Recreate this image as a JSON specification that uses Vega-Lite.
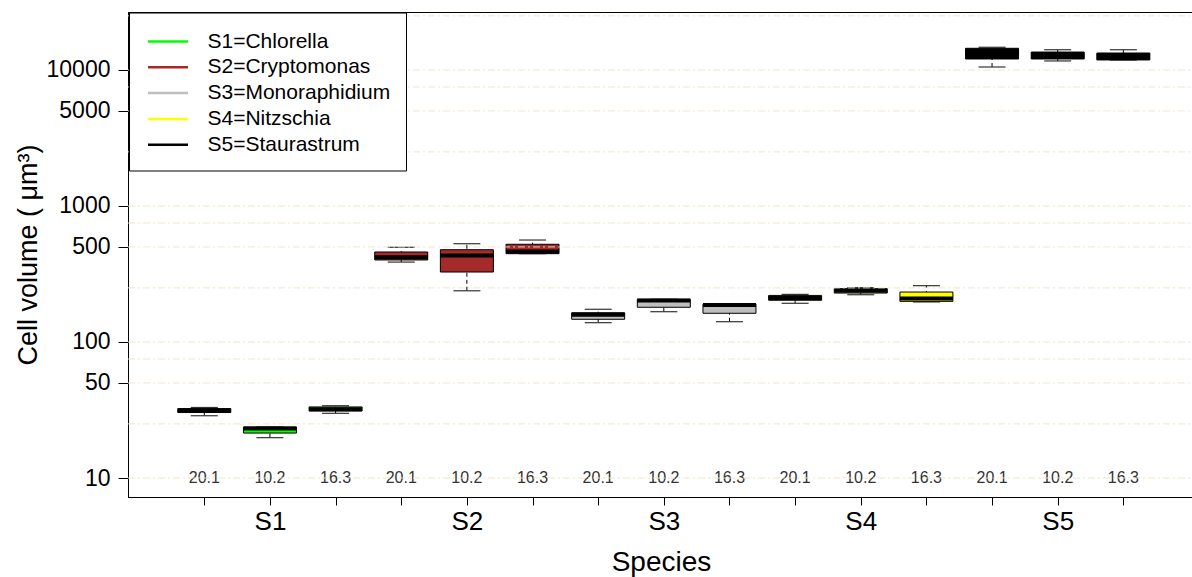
{
  "$schema": "https://vega.github.io/schema/vega-lite/v6.json",
  "width": 1066,
  "height": 485,
  "autosize": {"type": "none"},
  "padding": {"left": 128, "top": 12, "right": 0, "bottom": 80},
  "background": "white",
  "config": {
    "view": {"stroke": "black", "strokeWidth": 1},
    "font": "Liberation Sans",
    "axis": {"domainColor": "black", "tickColor": "black", "labelColor": "black", "titleColor": "black", "titleFontWeight": "normal", "grid": false}
  },
  "datasets": {
    "boxes": [
      {"pos": 1, "code": "S1", "species": "S1=Chlorella", "temp": "20.1", "min": 28.7, "q1": 30.3, "median": 31.36, "q3": 32.4, "max": 33.0},
      {"pos": 2, "code": "S1", "species": "S1=Chlorella", "temp": "10.2", "min": 19.8, "q1": 21.4, "median": 23.1, "q3": 23.7, "max": 23.7},
      {"pos": 3, "code": "S1", "species": "S1=Chlorella", "temp": "16.3", "min": 29.9, "q1": 31.1, "median": 32.06, "q3": 33.3, "max": 34.0},
      {"pos": 4, "code": "S2", "species": "S2=Cryptomonas", "temp": "20.1", "min": 387, "q1": 401, "median": 420, "q3": 459, "max": 497},
      {"pos": 5, "code": "S2", "species": "S2=Cryptomonas", "temp": "10.2", "min": 238, "q1": 327, "median": 433, "q3": 477, "max": 528},
      {"pos": 6, "code": "S2", "species": "S2=Cryptomonas", "temp": "16.3", "min": 446, "q1": 446, "median": 463, "q3": 523, "max": 562},
      {"pos": 7, "code": "S3", "species": "S3=Monoraphidium", "temp": "20.1", "min": 138.7, "q1": 146.9, "median": 158.8, "q3": 164.2, "max": 174},
      {"pos": 8, "code": "S3", "species": "S3=Monoraphidium", "temp": "10.2", "min": 167, "q1": 180, "median": 202, "q3": 206, "max": 206},
      {"pos": 9, "code": "S3", "species": "S3=Monoraphidium", "temp": "16.3", "min": 141, "q1": 162.6, "median": 187, "q3": 190, "max": 190},
      {"pos": 10, "code": "S4", "species": "S4=Nitzschia", "temp": "20.1", "min": 192.6, "q1": 202.6, "median": 211, "q3": 220, "max": 224},
      {"pos": 11, "code": "S4", "species": "S4=Nitzschia", "temp": "10.2", "min": 222.6, "q1": 229, "median": 237.9, "q3": 246.6, "max": 251},
      {"pos": 12, "code": "S4", "species": "S4=Nitzschia", "temp": "16.3", "min": 197, "q1": 199, "median": 209, "q3": 233, "max": 259.5},
      {"pos": 13, "code": "S5", "species": "S5=Staurastrum", "temp": "20.1", "min": 10520, "q1": 12050, "median": 13330, "q3": 14440, "max": 14690},
      {"pos": 14, "code": "S5", "species": "S5=Staurastrum", "temp": "10.2", "min": 11650, "q1": 12050, "median": 12790, "q3": 13550, "max": 14090},
      {"pos": 15, "code": "S5", "species": "S5=Staurastrum", "temp": "16.3", "min": 11850, "q1": 11850, "median": 12680, "q3": 13330, "max": 14090}
    ],
    "grid": [
      {"v": 10}, {"v": 25}, {"v": 50}, {"v": 75}, {"v": 100}, {"v": 250}, {"v": 500}, {"v": 750},
      {"v": 1000}, {"v": 2500}, {"v": 5000}, {"v": 7500}, {"v": 10000}, {"v": 25000}
    ]
  },
  "encoding": {
    "x": {
      "field": "pos",
      "type": "quantitative",
      "scale": {"domain": [-0.086, 16], "nice": false, "zero": false},
      "axis": {
        "values": [1, 2, 3, 4, 5, 6, 7, 8, 9, 10, 11, 12, 13, 14, 15],
        "labelExpr": "indexof([2,5,8,11,14], datum.value) >= 0 ? 'S' + ((datum.value + 1) / 3) : ''",
        "tickSize": 8,
        "labelFontSize": 26,
        "labelPadding": 3,
        "labelFlush": false,
        "labelOverlap": false,
        "titleFontSize": 28,
        "titlePadding": 14
      },
      "title": "Species"
    }
  },
  "layer": [
    {
      "data": {"name": "boxes"},
      "mark": {"type": "rule", "color": "black", "strokeDash": [4, 3], "strokeWidth": 1},
      "encoding": {
        "y": {
          "field": "min", "type": "quantitative",
          "scale": {"type": "log", "domain": [7.25, 26690], "nice": false},
          "axis": {"values": [10, 50, 100, 500, 1000, 5000, 10000], "format": "d", "tickSize": 10, "labelPadding": 8, "labelFontSize": 23, "titleFontSize": 27, "titlePadding": 4},
          "title": "Cell volume ( μm³)"
        },
        "y2": {"field": "max"}
      }
    },
    {
      "data": {"name": "boxes"},
      "mark": {"type": "tick", "orient": "horizontal", "size": 27, "thickness": 1.2, "color": "#333333", "opacity": 1},
      "encoding": {
        "y": {
          "field": "min", "type": "quantitative",
          "scale": {"type": "log", "domain": [7.25, 26690], "nice": false},
          "axis": {"values": [10, 50, 100, 500, 1000, 5000, 10000], "format": "d", "tickSize": 10, "labelPadding": 8, "labelFontSize": 23, "titleFontSize": 27, "titlePadding": 4},
          "title": "Cell volume ( μm³)"
        }
      }
    },
    {
      "data": {"name": "boxes"},
      "mark": {"type": "tick", "orient": "horizontal", "size": 27, "thickness": 1.2, "color": "#333333", "opacity": 1},
      "encoding": {
        "y": {
          "field": "max", "type": "quantitative",
          "scale": {"type": "log", "domain": [7.25, 26690], "nice": false},
          "axis": {"values": [10, 50, 100, 500, 1000, 5000, 10000], "format": "d", "tickSize": 10, "labelPadding": 8, "labelFontSize": 23, "titleFontSize": 27, "titlePadding": 4},
          "title": "Cell volume ( μm³)"
        }
      }
    },
    {
      "data": {"name": "boxes"},
      "mark": {"type": "bar", "size": 53, "stroke": "black", "strokeWidth": 1},
      "encoding": {
        "y": {
          "field": "q1", "type": "quantitative",
          "scale": {"type": "log", "domain": [7.25, 26690], "nice": false},
          "axis": {"values": [10, 50, 100, 500, 1000, 5000, 10000], "format": "d", "tickSize": 10, "labelPadding": 8, "labelFontSize": 23, "titleFontSize": 27, "titlePadding": 4},
          "title": "Cell volume ( μm³)"
        },
        "y2": {"field": "q3"},
        "fill": {
          "field": "code", "type": "nominal",
          "scale": {
            "domain": ["S1", "S2", "S3", "S4", "S5"],
            "range": ["#00FF00", "#A52A2A", "#BEBEBE", "#FFFF00", "#000000"]
          },
          "legend": null
        }
      }
    },
    {
      "data": {"name": "boxes"},
      "mark": {"type": "tick", "orient": "horizontal", "size": 53, "thickness": 4, "color": "black", "opacity": 1},
      "encoding": {
        "y": {
          "field": "median", "type": "quantitative",
          "scale": {"type": "log", "domain": [7.25, 26690], "nice": false},
          "axis": {"values": [10, 50, 100, 500, 1000, 5000, 10000], "format": "d", "tickSize": 10, "labelPadding": 8, "labelFontSize": 23, "titleFontSize": 27, "titlePadding": 4},
          "title": "Cell volume ( μm³)"
        }
      }
    },
    {
      "data": {"name": "boxes"},
      "mark": {"type": "rule"},
      "encoding": {
        "y": {
          "field": "median", "type": "quantitative",
          "scale": {"type": "log", "domain": [7.25, 26690], "nice": false},
          "axis": {"values": [10, 50, 100, 500, 1000, 5000, 10000], "format": "d", "tickSize": 10, "labelPadding": 8, "labelFontSize": 23, "titleFontSize": 27, "titlePadding": 4},
          "title": "Cell volume ( μm³)"
        },
        "y2": {"field": "median"},
        "stroke": {
          "field": "species", "type": "nominal",
          "scale": {
            "domain": ["S1=Chlorella", "S2=Cryptomonas", "S3=Monoraphidium", "S4=Nitzschia", "S5=Staurastrum"],
            "range": ["#00FF00", "#A52A2A", "#BEBEBE", "#FFFF00", "#000000"]
          },
          "legend": {
            "title": null,
            "orient": "none",
            "legendX": 1,
            "legendY": 0.5,
            "symbolType": "M-0.833,0H2.5",
            "symbolSize": 576,
            "symbolStrokeWidth": 2.5,
            "labelFontSize": 21,
            "labelOffset": 36,
            "labelLimit": 400,
            "labelColor": "black",
            "rowPadding": 1.8,
            "padding": 15.5,
            "fillColor": "white",
            "strokeColor": "black"
          }
        }
      }
    },
    {
      "data": {"name": "boxes"},
      "mark": {"type": "text", "fontSize": 16, "color": "#333333", "baseline": "middle", "align": "center"},
      "encoding": {
        "y": {
          "datum": 10, "type": "quantitative",
          "scale": {"type": "log", "domain": [7.25, 26690], "nice": false},
          "axis": {"values": [10, 50, 100, 500, 1000, 5000, 10000], "format": "d", "tickSize": 10, "labelPadding": 8, "labelFontSize": 23, "titleFontSize": 27, "titlePadding": 4},
          "title": "Cell volume ( μm³)"
        },
        "text": {"field": "temp", "type": "nominal"}
      }
    },
    {
      "data": {"name": "grid"},
      "mark": {"type": "rule", "color": "#EDE3C3", "strokeDash": [7, 3, 2, 3], "strokeWidth": 1, "opacity": 0.9},
      "encoding": {
        "x": {"value": 0},
        "x2": {"value": 1066},
        "y": {
          "field": "v", "type": "quantitative",
          "scale": {"type": "log", "domain": [7.25, 26690], "nice": false},
          "axis": {"values": [10, 50, 100, 500, 1000, 5000, 10000], "format": "d", "tickSize": 10, "labelPadding": 8, "labelFontSize": 23, "titleFontSize": 27, "titlePadding": 4},
          "title": "Cell volume ( μm³)"
        }
      }
    }
  ]
}
